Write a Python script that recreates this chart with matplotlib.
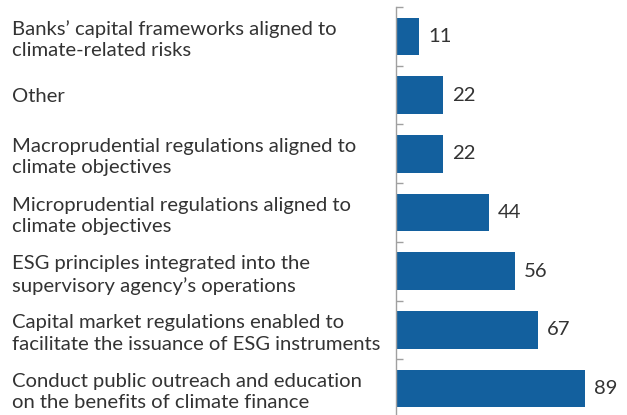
import matplotlib.pyplot as plt

plt.rcParams['font.family'] = ['Lato', 'DejaVu Sans']

# --- Survey results (share of respondents, %) ---
labels = [
    "Banks\u2019 capital frameworks aligned to\nclimate-related risks",
    "Other",
    "Macroprudential regulations aligned to\nclimate objectives",
    "Microprudential regulations aligned to\nclimate objectives",
    "ESG principles integrated into the\nsupervisory agency\u2019s operations",
    "Capital market regulations enabled to\nfacilitate the issuance of ESG instruments",
    "Conduct public outreach and education\non the benefits of climate finance",
]
values = [11, 22, 22, 44, 56, 67, 89]

bar_color = '#13609e'
text_color = '#333333'
axis_color = '#a0a0a0'
fs = 14.6

fig = plt.figure(figsize=(6.27, 4.15), dpi=100)
ax = fig.add_axes([396 / 627, -3 / 415, 1 - 396 / 627, 411 / 415])

pos = list(range(len(values)))
ax.barh(pos, values, height=0.64, color=bar_color)

for y, v in zip(pos, values):
    ax.annotate(str(v), (v, y), xytext=(9, 0), textcoords='offset pixels',
                va='center', ha='left', fontsize=fs, color=text_color)

ax.set_xlim(0, 109)
ax.set_ylim(len(values) - 0.5, -0.5)

# category labels, left-aligned at the figure edge
ax.set_yticks(pos, labels)
ax.tick_params(axis='y', which='major', length=0, pad=(396 - 12) * 0.72,
               labelsize=fs, labelcolor=text_color)
for t in ax.get_yticklabels():
    t.set_ha('left')
    t.set_linespacing(1.3)

# small separator ticks between categories
ax.set_yticks([p - 0.5 for p in pos] + [len(values) - 0.5], minor=True)
ax.tick_params(axis='y', which='minor', direction='in', length=5,
               width=1, color=axis_color)

ax.set_xticks([])
for s in ['top', 'right', 'bottom']:
    ax.spines[s].set_visible(False)
ax.spines['left'].set_color(axis_color)
ax.spines['left'].set_linewidth(1)

fig.savefig('out.png', dpi=100)
